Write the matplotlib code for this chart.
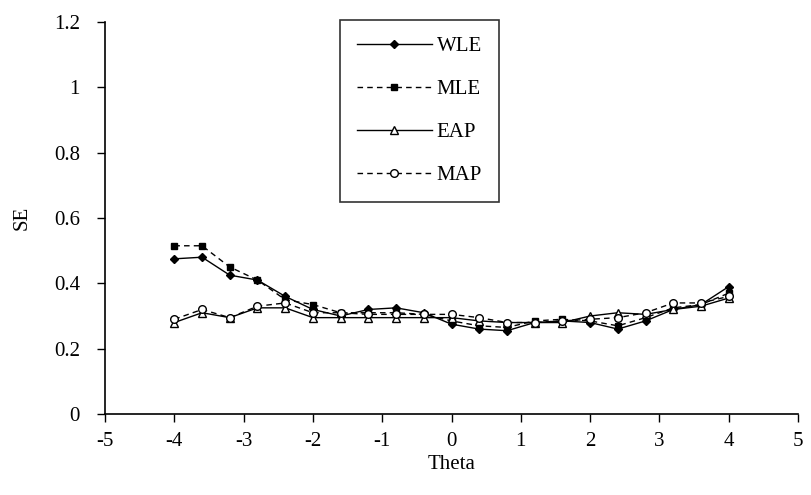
import matplotlib
matplotlib.use("Agg")
import matplotlib.pyplot as plt
import numpy as np

theta = [-4.0, -3.6, -3.2, -2.8, -2.4, -2.0, -1.6, -1.2, -0.8, -0.4, 0.0,
         0.4, 0.8, 1.2, 1.6, 2.0, 2.4, 2.8, 3.2, 3.6, 4.0]
wle = [0.475, 0.48, 0.425, 0.41, 0.36, 0.32, 0.30, 0.32, 0.325, 0.31, 0.275,
       0.26, 0.255, 0.28, 0.285, 0.28, 0.26, 0.285, 0.32, 0.335, 0.39]
mle = [0.515, 0.515, 0.45, 0.41, 0.35, 0.335, 0.31, 0.31, 0.31, 0.305, 0.285,
       0.27, 0.265, 0.285, 0.29, 0.285, 0.27, 0.295, 0.325, 0.335, 0.37]
eap = [0.28, 0.31, 0.295, 0.325, 0.325, 0.295, 0.295, 0.295, 0.295, 0.295, 0.295,
       0.285, 0.28, 0.28, 0.28, 0.30, 0.31, 0.305, 0.32, 0.33, 0.355]
map_ = [0.29, 0.32, 0.295, 0.33, 0.34, 0.31, 0.31, 0.305, 0.305, 0.305, 0.305,
        0.295, 0.28, 0.28, 0.285, 0.29, 0.295, 0.31, 0.34, 0.34, 0.36]

xticks = [-5, -4, -3, -2, -1, 0, 1, 2, 3, 4, 5]
yticks = [0, 0.2, 0.4, 0.6, 0.8, 1, 1.2]
ytick_labels = ["0", "0.2", "0.4", "0.6", "0.8", "1", "1.2"]

plt.rcParams['font.family'] = ['Liberation Serif', 'DejaVu Serif']

fig = plt.figure(figsize=(8.11, 4.95), dpi=100)
ax = fig.add_axes([0.1295, 0.1636, 0.8545, 0.792])

lw = 1.0
ax.plot(theta, wle, color='black', lw=lw, ls='-', marker='D', ms=4.5,
        mfc='black', mec='black', label='WLE')
ax.plot(theta, mle, color='black', lw=lw, ls=(0, (4, 3)), marker='s', ms=5,
        mfc='black', mec='black', label='MLE')
ax.plot(theta, eap, color='black', lw=lw, ls='-', marker='^', ms=5.5,
        mfc='white', mec='black', mew=1.0, label='EAP')
ax.plot(theta, map_, color='black', lw=lw, ls=(0, (4, 3)), marker='o', ms=5.5,
        mfc='white', mec='black', mew=1.0, label='MAP')

fs = 15
ax.set_xlim(-5, 5)
ax.set_ylim(0, 1.2)
ax.set_xticks(xticks)
ax.set_xticklabels([str(t) for t in xticks])
ax.set_yticks(yticks)
ax.set_yticklabels(ytick_labels)
ax.tick_params(axis='both', direction='out', length=6, width=1, labelsize=fs,
               colors='black')
ax.tick_params(axis='x', pad=7)
ax.tick_params(axis='y', pad=12)
for s in ['top', 'right']:
    ax.spines[s].set_visible(False)
for s in ['left', 'bottom']:
    ax.spines[s].set_linewidth(1.2)

ax.set_xlabel('Theta', fontsize=fs, labelpad=3)
ax.set_ylabel('SE', fontsize=fs, labelpad=16)

leg = ax.legend(loc='upper left', bbox_to_anchor=(0.339, 1.005), fontsize=fs,
                frameon=True, fancybox=False, edgecolor='black',
                handlelength=3.6, labelspacing=1.12, borderpad=0.8,
                handletextpad=0.25, borderaxespad=0)
leg.get_frame().set_linewidth(1.2)

fig.savefig('out.png', dpi=100)
